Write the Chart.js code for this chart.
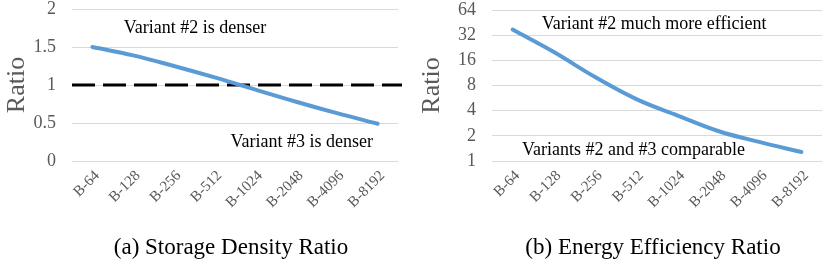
<!DOCTYPE html>
<html><head><meta charset="utf-8">
<script src="https://cdn.jsdelivr.net/npm/chart.js@4.4.0/dist/chart.umd.min.js"></script>
<style>
html,body{margin:0;padding:0;background:#fff;overflow:hidden;width:830px;height:264px;}
#a{position:absolute;left:0;top:0;}
#b{position:absolute;left:415px;top:0;}
</style></head><body>
<canvas id="a" width="415" height="264"></canvas>
<canvas id="b" width="415" height="264"></canvas>
<script>
// ---- data ----
const categories = ['B-64','B-128','B-256','B-512','B-1024','B-2048','B-4096','B-8192'];
const densityRatio = [1.5, 1.39, 1.25, 1.1, 0.94, 0.78, 0.63, 0.49];
const energyRatio = [37.3, 20.1, 10.1, 5.5, 3.5, 2.27, 1.68, 1.28];
const densityTicks = [0, 0.5, 1, 1.5, 2];
const energyTicks = [1, 2, 4, 8, 16, 32, 64];
const densityReference = 1;
const axisTitle = 'Ratio';
const captionA = '(a) Storage Density Ratio';
const captionB = '(b) Energy Efficiency Ratio';
const notesA = ['Variant #2 is denser', 'Variant #3 is denser'];
const notesAAt = [[2.52, 1.74], [5.14, 0.24]];      // [category index, value]
const notesB = ['Variant #2 much more efficient', 'Variants #2 and #3 comparable'];
const notesBAt = [[3.43, 43.5], [2.93, 1.35]];

// ---- styling ----
const FONT = '"Liberation Serif", "Times New Roman", serif';
const GRAY = '#595959';
const BLUE = '#5B9BD5';

function refLinePlugin(value) {
  return {
    id: 'refLine',
    beforeDatasetsDraw(chart) {
      const {ctx, chartArea} = chart;
      const y = chart.scales.y.getPixelForValue(value);
      ctx.save();
      ctx.strokeStyle = '#000';
      ctx.lineWidth = 3;
      ctx.setLineDash([23, 8]);
      ctx.beginPath();
      ctx.moveTo(chartArea.left, y);
      ctx.lineTo(chartArea.right + 4, y);
      ctx.stroke();
      ctx.restore();
    }
  };
}
function notesPlugin(texts, at) {
  return {
    id: 'notes',
    afterDatasetsDraw(chart) {
      const {ctx} = chart;
      ctx.save();
      ctx.fillStyle = '#000';
      ctx.font = '18px ' + FONT;
      ctx.textAlign = 'center';
      ctx.textBaseline = 'middle';
      texts.forEach((t, i) => {
        const x = chart.scales.x.getPixelForValue(at[i][0]);
        const y = chart.scales.y.getPixelForValue(at[i][1]);
        ctx.fillText(t, x, y);
      });
      ctx.restore();
    }
  };
}
function captionPlugin(text) {
  return {
    id: 'caption',
    afterDraw(chart) {
      const {ctx, chartArea} = chart;
      ctx.save();
      ctx.fillStyle = '#000';
      ctx.font = '23px ' + FONT;
      ctx.textAlign = 'center';
      ctx.textBaseline = 'alphabetic';
      ctx.fillText(text, (chartArea.left + chartArea.right) / 2 - 4, chart.height - 10);
      ctx.restore();
    }
  };
}

function makeConfig(values, yOpts, yTicks, yWidth, padRight, padTop, plugins) {
  return {
    type: 'line',
    data: {
      labels: categories,
      datasets: [{
        data: values, borderColor: BLUE, borderWidth: 4, pointRadius: 0,
        tension: 0.4, fill: false, borderCapStyle: 'round'
      }]
    },
    options: {
      responsive: false, animation: false, devicePixelRatio: 1,
      layout: {autoPadding: false, padding: {left: 0, right: padRight, top: padTop, bottom: 36}},
      plugins: {legend: {display: false}, tooltip: {enabled: false}, title: {display: false}},
      scales: {
        x: {
          type: 'category', offset: true,
          grid: {display: false, drawTicks: false},
          border: {display: false},
          ticks: {color: GRAY, font: {family: FONT, size: 15}, minRotation: 45, maxRotation: 45,
                  padding: 6, labelOffset: 5, autoSkip: false},
          afterFit: s => { s.height = 67; s.paddingLeft = 0; s.paddingRight = 0; }
        },
        y: Object.assign({
          grid: {color: '#d9d9d9', lineWidth: 1, drawTicks: false},
          border: {display: false},
          ticks: {color: GRAY, font: {family: FONT, size: 18}, padding: 16,
                  callback: v => String(v)},
          afterBuildTicks: s => { s.ticks = yTicks.map(v => ({value: v})); },
          afterFit: s => { s.width = yWidth; s.paddingTop = 0; s.paddingBottom = 0; },
          title: {display: true, text: axisTitle, color: GRAY, font: {family: FONT, size: 26},
                  padding: {top: 2, bottom: 0}}
        }, yOpts)
      }
    },
    plugins: plugins
  };
}

new Chart(document.getElementById('a'), makeConfig(
  densityRatio, {type: 'linear', min: 0, max: 2}, densityTicks, 72, 17, 9,
  [refLinePlugin(densityReference), notesPlugin(notesA, notesAAt), captionPlugin(captionA)]
));
new Chart(document.getElementById('b'), makeConfig(
  energyRatio, {type: 'logarithmic', min: 1, max: 64}, energyTicks, 77, 8, 10,
  [notesPlugin(notesB, notesBAt), captionPlugin(captionB)]
));
</script>
</body></html>
